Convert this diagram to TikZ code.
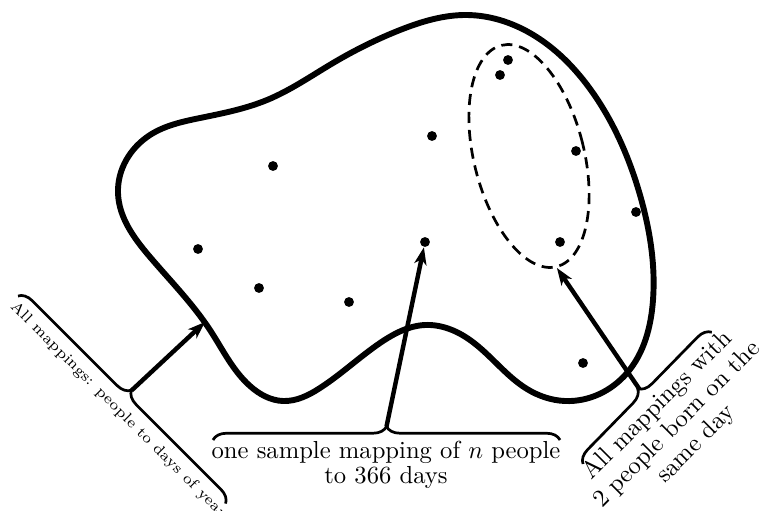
\documentclass[tikz,border=0pt]{standalone}
\usetikzlibrary{decorations.pathreplacing,shapes.geometric,arrows.meta,hobby}
\begin{document}
\begin{tikzpicture}[x=0.406pt, y=-0.406pt,
	dot/.style={circle, fill, inner sep=0pt, minimum size=4pt},
	arr/.style={line width=1.8pt, -{Stealth[length=7pt, width=5pt, inset=2pt]}},
	brc/.style={line width=1.1pt, decorate, decoration={brace, amplitude=5.5pt}}]
	\useasboundingbox (0,0) rectangle (760,510);
	% the set of all mappings
	\draw[line width=2.4pt] plot[closed hobby] coordinates {
		(118,193) (150,257) (210,330) (250,386) (283,401) (320,388) (380,343)
		(425,325) (470,340) (527,389) (565,401) (627,373) (653,300) (640,195)
		(593,93) (530,33) (467,15) (400,30) (333,63) (267,100) (200,118) (150,135)};
	\node[ellipse, draw, line width=1.1pt, dash pattern=on 4.5pt off 2.8pt, inner sep=0pt,
		minimum width=44.7pt, minimum height=92.6pt, rotate=14] (same) at (529,156) {};
	% sample mappings
	\node[dot] (d1) at (508,60) {};
	\node[dot] (d2) at (500,75) {};
	\node[dot] (d3) at (432,136) {};
	\node[dot] (d4) at (273,166) {};
	\node[dot] (d5) at (576,151) {};
	\node[dot] (d6) at (636,212) {};
	\node[dot] (d7) at (198,249) {};
	\node[dot] (d8) at (425,242) {};
	\node[dot] (d9) at (560,242) {};
	\node[dot] (d10) at (259,288) {};
	\node[dot] (d11) at (349,302) {};
	\node[dot] (d12) at (583,363) {};
	% braces and labels
	\draw[brc] (18,296) -- (226,504);
	\draw[brc] (213,440) -- (560,440);
	\draw[brc] (583,464) -- (712,332);
	\coordinate (tipL) at (131.5,390.5);
	\coordinate (tipB) at (386.5,426.5);
	\coordinate (tipR) at (640,390);
	\coordinate (edgeL) at (205,322);
	\node[rotate=-45, font=\fontsize{6.1}{8}\selectfont] (lblAll) at (118,410) {All mappings: people to days of year};
	\node[align=center, font=\fontsize{10}{10}\selectfont] (lblSample) at (386,465) {one sample mapping of $n$ people\\to 366 days};
	\node[rotate=45, align=center, font=\fontsize{10}{11}\selectfont] (lblSame) at (677,425) {All mappings with\\2 people born on the\\same day};
	\draw[arr] (tipL) -- (edgeL);
	\draw[arr] (tipB) -- (d8);
	\draw[arr] (tipR) -- (same.south);
\end{tikzpicture}
\end{document}
